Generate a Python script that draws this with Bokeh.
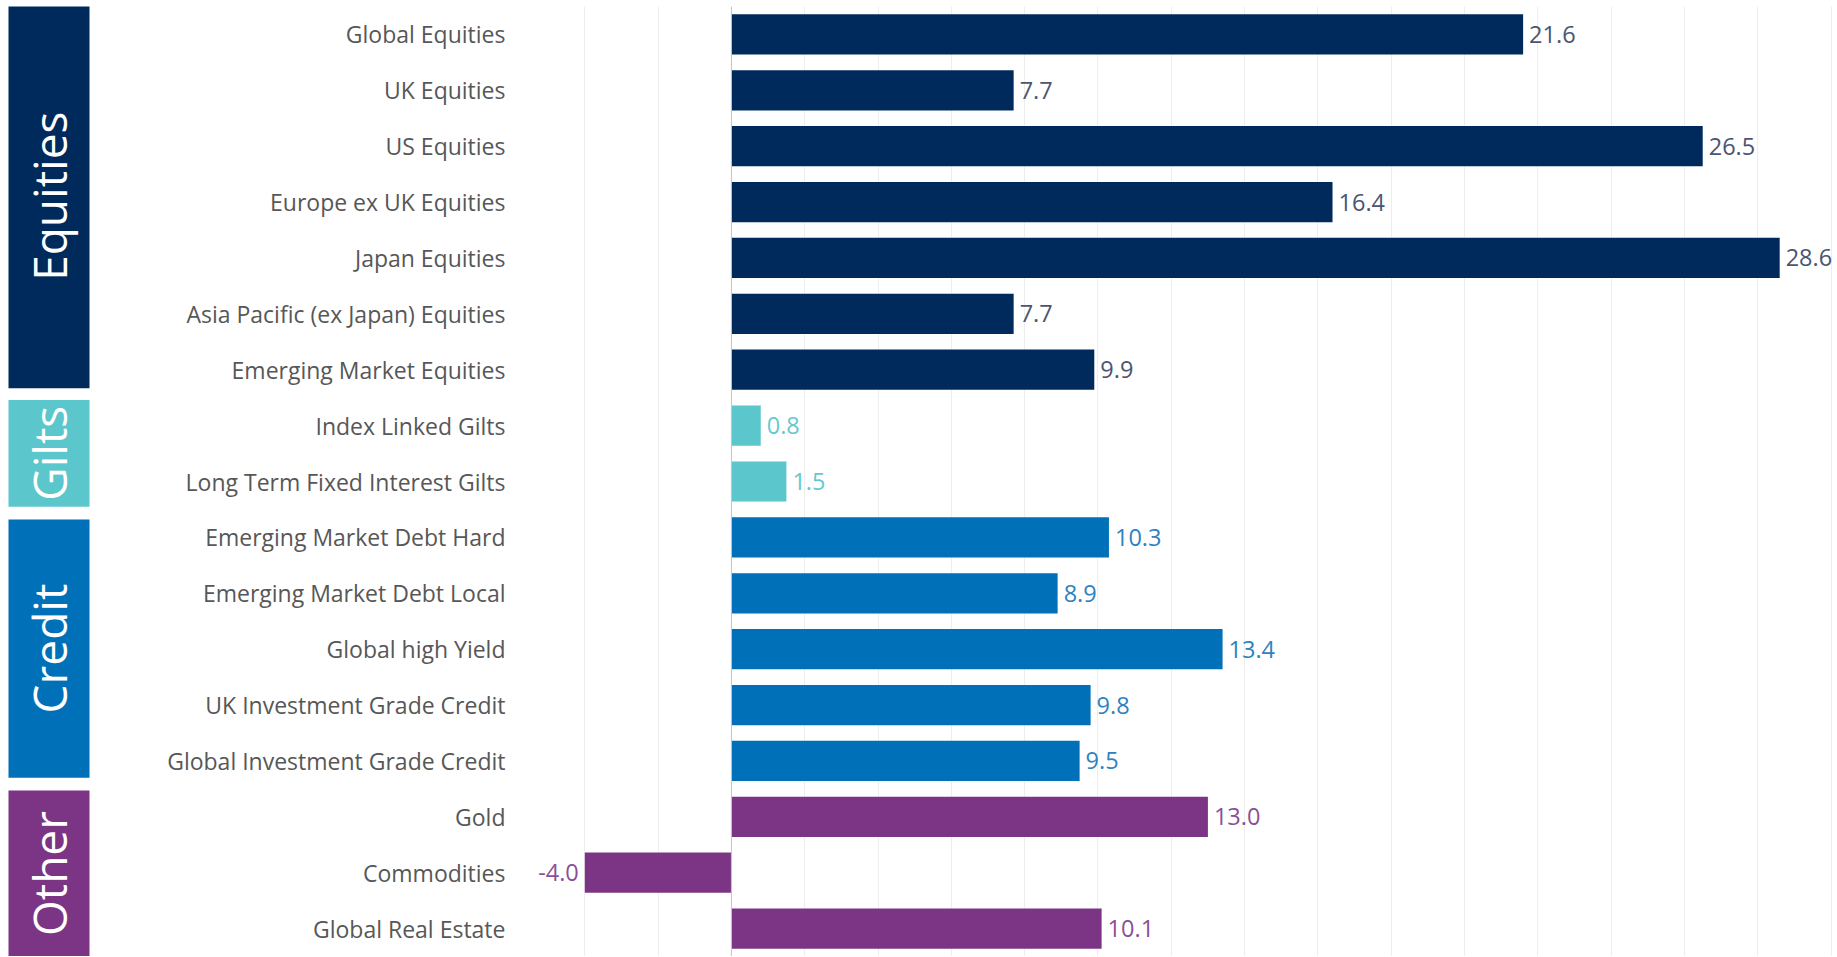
from bokeh.plotting import figure
from bokeh.models import ColumnDataSource, Range1d, FixedTicker, SingleIntervalTicker, Span
from bokeh.layouts import row
from bokeh.embed import file_html
from bokeh.resources import INLINE
from bokeh.core.properties import value
import math

# ---------------- data ----------------
categories = [
    "Global Equities", "UK Equities", "US Equities", "Europe ex UK Equities",
    "Japan Equities", "Asia Pacific (ex Japan) Equities", "Emerging Market Equities",
    "Index Linked Gilts", "Long Term Fixed Interest Gilts",
    "Emerging Market Debt Hard", "Emerging Market Debt Local", "Global high Yield",
    "UK Investment Grade Credit", "Global Investment Grade Credit",
    "Gold", "Commodities", "Global Real Estate",
]
values = [21.6, 7.7, 26.5, 16.4, 28.6, 7.7, 9.9,
          0.8, 1.5,
          10.3, 8.9, 13.4, 9.8, 9.5,
          13.0, -4.0, 10.1]
groups = (["Equities"] * 7 + ["Gilts"] * 2 + ["Credit"] * 5 + ["Other"] * 3)
group_names = ["Equities", "Gilts", "Credit", "Other"]
group_colors = {"Equities": "#002a5c", "Gilts": "#5bc6cc", "Credit": "#0071b9", "Other": "#7b3584"}
label_colors = {"Equities": "#4a5571", "Gilts": "#66c8ce", "Credit": "#2f82c1", "Other": "#8c4f95"}

FONT = "Open Sans"
H = 956
W_LEFT = 98
W_MAIN = 1738

n = len(categories)
ys = list(range(n))
y_range = Range1d(n - 0.5, -0.5)

# ---------------- main chart ----------------
p = figure(width=W_MAIN, height=H, x_range=Range1d(-6.0, 30.15), y_range=y_range,
           output_backend="svg", toolbar_location=None,
           min_border_left=413, min_border_right=0, min_border_top=6, min_border_bottom=0)
p.outline_line_color = None
p.background_fill_color = "white"
p.border_fill_color = "white"

p.xaxis.visible = False
p.xaxis.ticker = SingleIntervalTicker(interval=2)
p.xgrid.grid_line_color = "#eeeeee"
p.ygrid.grid_line_color = None

p.yaxis.ticker = FixedTicker(ticks=ys)
p.yaxis.major_label_overrides = {i: c for i, c in enumerate(categories)}
p.yaxis.axis_line_color = None
p.yaxis.major_tick_line_color = None
p.yaxis.minor_tick_line_color = None
p.yaxis.major_tick_out = 0
p.yaxis.major_label_standoff = 6
p.yaxis.major_label_text_font = FONT
p.yaxis.major_label_text_font_size = "23px"
p.yaxis.major_label_text_color = "#575757"

src = ColumnDataSource(dict(
    y=ys, v=values,
    color=[group_colors[g] for g in groups],
))
p.hbar(y="y", left=0, right="v", height=0.72, fill_color="color", line_color=None, source=src)

p.add_layout(Span(location=0, dimension="height", line_color="#c4c4c4", line_width=1))

pos = [i for i in range(n) if values[i] >= 0]
neg = [i for i in range(n) if values[i] < 0]
pos_src = ColumnDataSource(dict(
    x=[values[i] for i in pos], y=[ys[i] for i in pos],
    t=[f"{values[i]:.1f}" for i in pos], c=[label_colors[groups[i]] for i in pos]))
neg_src = ColumnDataSource(dict(
    x=[values[i] for i in neg], y=[ys[i] for i in neg],
    t=[f"{values[i]:.1f}" for i in neg], c=[label_colors[groups[i]] for i in neg]))
p.text(x="x", y="y", text="t", text_color="c", source=pos_src, x_offset=6,
       text_align="left", text_baseline="middle",
       text_font=value(FONT), text_font_size="23.5px")
p.text(x="x", y="y", text="t", text_color="c", source=neg_src, x_offset=-6,
       text_align="right", text_baseline="middle",
       text_font=value(FONT), text_font_size="23.5px")

# ---------------- group boxes ----------------
left = figure(width=W_LEFT, height=H, x_range=Range1d(0, W_LEFT), y_range=y_range,
              output_backend="svg", toolbar_location=None,
              min_border_left=0, min_border_right=0, min_border_top=6, min_border_bottom=0)
left.outline_line_color = None
left.axis.visible = False
left.grid.grid_line_color = None

# box insets (in row units) at the top / bottom of each group box
pad_top = {"Equities": -0.04, "Gilts": 0.04, "Credit": 0.18, "Other": 0.03}
pad_bot = {"Equities": 0.17, "Gilts": 0.05, "Credit": 0.2, "Other": 0.0}
g_top, g_bot, g_mid, g_col = [], [], [], []
for g in group_names:
    idx = [i for i in range(n) if groups[i] == g]
    lo = min(idx) - 0.5 + pad_top[g]
    hi = max(idx) + 0.5 - pad_bot[g]
    g_top.append(lo)
    g_bot.append(hi)
    g_mid.append((lo + hi) / 2)
    g_col.append(group_colors[g])
gsrc = ColumnDataSource(dict(top=g_top, bottom=g_bot, mid=g_mid, color=g_col, name=group_names))
left.quad(left=8, right=89, top="top", bottom="bottom", fill_color="color", line_color=None, source=gsrc)
left.text(x=48, y="mid", text="name", angle=math.pi / 2, text_align="center",
          text_baseline="middle", text_color="white", text_font=value(FONT),
          text_font_size="46px", source=gsrc)

layout = row(left, p)
open("out.html", "w").write(file_html(layout, INLINE))
